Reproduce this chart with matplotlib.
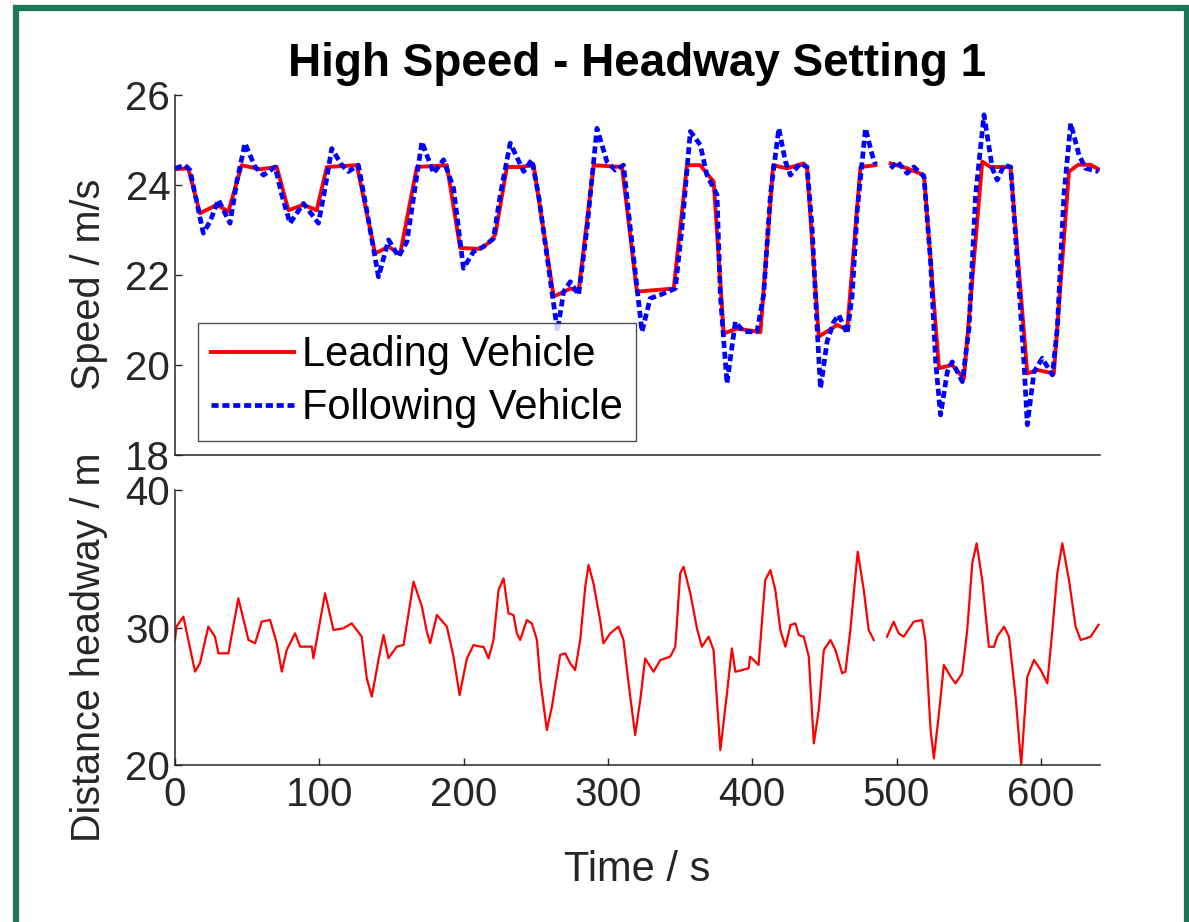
import numpy as np
import matplotlib
matplotlib.use("Agg")
import matplotlib.pyplot as plt
from matplotlib.patches import Rectangle

plt.rcParams['font.family'] = ['Liberation Sans', 'DejaVu Sans']

title = "High Speed - Headway Setting 1"
xlabel = "Time / s"
ylabel_top = "Speed / m/s"
ylabel_bot = "Distance headway / m"
legend_labels = ["Leading Vehicle", "Following Vehicle"]

nan = np.nan
# Leading vehicle speed (time s, speed m/s)
lead_t = [0, 9.2, 17.3, 28.9, 37, 46.2, 59, 70.5, 78.6, 89, 98.2, 105.2, 126, 138.7, 148, 156,
          167.6, 188.4, 197.6, 211.5, 218.4, 222, 230, 239, 248.5, 262.4, 274, 279.7, 290.1,
          309.8, 320.1, 345.6, 354.8, 364, 373.3, 380.2, 389.4, 405.7, 414.5, 424, 435.7, 438,
          446.1, 458.9, 465.8, 475, 485.4, nan, 495.9, 507.4, 519, 529.4, 538.6, 546.7, 559.4,
          565.1, 579, 590.6, 597.5, 609, 619.5, 626, 634.4, 640]
lead_v = [24.35, 24.37, 23.37, 23.56, 23.41, 24.44, 24.35, 24.4, 23.44, 23.56, 23.44, 24.4, 24.44,
          22.48, 22.63, 22.46, 24.4, 24.44, 22.6, 22.58, 22.74, 22.9, 24.4, 24.4, 24.44, 21.52,
          21.7, 21.63, 24.44, 24.4, 21.63, 21.7, 24.44, 24.44, 24.07, 20.7, 20.81, 20.73, 24.44,
          24.37, 24.48, 24.37, 20.63, 20.89, 20.78, 24.4, 24.44, nan, 24.48, 24.37, 24.22, 19.93,
          20.0, 19.7, 24.52, 24.4, 24.4, 19.81, 19.89, 19.81, 24.3, 24.45, 24.45, 24.35]

# Following vehicle speed
fol_t = [0, 6.9, 10.4, 19.6, 24.3, 30.1, 38.1, 42.8, 48.5, 55.5, 61.3, 69.4, 74, 79.7, 89, 99.4,
         104, 108.6, 115.6, 120.2, 127.1, 133, 141, 148, 154.9, 160.7, 171.1, 179.2, 186.1, 193,
         199.9, 206.9, 213.8, 220.7, 225.4, 232.3, 241.6, 247.3, 251.9, 265, 269.3, 273.9, 279.7,
         285.5, 292.4, 299.3, 305.1, 310.8, 315.5, 323.6, 329.3, 336.3, 346.7, 351.3, 357.1, 364,
         368.6, 375.6, 377.9, 382.5, 388.3, 394.1, 403.3, 407.9, 412.6, 418.4, 423, 426.5, 433.4,
         438, 441.5, 445, 447.3, 451.9, 456.5, 460, 465.8, 469.3, 472.7, 478.5, 483.1, 485.4, nan,
         495.9, 500.5, 507.4, 512, 519, 523.6, 527.1, 530.5, 535.2, 538.6, 545.6, 550.2, 554.8,
         560.6, 566.4, 569.8, 574.5, 579.1, 583.7, 588.3, 590.6, 595.3, 601, 608, 611.4, 616,
         620.7, 626.4, 631, 640]
fol_v = [24.37, 24.44, 24.33, 22.93, 23.19, 23.67, 23.15, 24.07, 24.93, 24.4, 24.22, 24.4, 23.78,
         23.15, 23.59, 23.15, 23.93, 24.81, 24.44, 24.3, 24.44, 23.41, 21.96, 22.78, 22.41, 22.74,
         24.96, 24.26, 24.56, 23.93, 22.15, 22.52, 22.63, 22.81, 23.78, 24.93, 24.3, 24.56, 23.78,
         20.75, 21.63, 21.85, 21.56, 23.04, 25.26, 24.52, 24.33, 24.44, 23.04, 20.74, 21.48,
         21.56, 21.7, 23.04, 25.19, 24.89, 24.22, 23.78, 21.56, 19.59, 20.96, 20.74, 20.74, 21.56,
         23.78, 25.26, 24.52, 24.22, 24.48, 24.4, 23.04, 20.81, 19.48, 20.52, 20.96, 21.11, 20.7,
         21.56, 23.41, 25.26, 24.67, 24.45, nan, 24.37, 24.52, 24.26, 24.4, 24.19, 22.3, 20.07,
         18.89, 19.85, 20.07, 19.63, 20.81, 23.78, 25.56, 24.37, 24.11, 24.44, 24.4, 22.3, 20.07,
         18.67, 19.85, 20.15, 19.78, 20.81, 23.78, 25.37, 24.67, 24.37, 24.3]

# Distance headway (time s, headway m)
hw_t = [0, 1, 5.8, 13.9, 17.3, 23.1, 27.7, 30.1, 37, 43.9, 50.9, 55.5, 60.1, 65.9, 70.5, 74, 77.4,
        83.2, 86.7, 94.8, 95.9, 99.4, 104, 109.8, 116.7, 122.5, 129.4, 132.9, 136.4, 141, 144.5,
        147.9, 153.7, 158.4, 165.3, 171.1, 174.5, 176.8, 181.5, 188.4, 193, 197.2, 202.3, 206.9,
        211.5, 213.8, 217.3, 220.7, 224.2, 227.7, 231.1, 234.6, 236.9, 239.2, 243.8, 247.3, 250.8,
        253.1, 257.7, 261.2, 266.9, 270.4, 273.9, 277.3, 280.8, 284.3, 286.6, 290, 294.6, 296.9,
        301.6, 307.3, 310.8, 314.3, 318.9, 322.4, 325.8, 331.6, 336.3, 343.2, 346.7, 350.1, 352.4,
        357.1, 361.7, 365.1, 369.8, 373.2, 377.9, 382.5, 385.9, 388.3, 397.5, 398.6, 404.4, 409,
        412.6, 416, 419.5, 423, 426.5, 429.9, 432.3, 435.7, 439.2, 442.7, 446.1, 449.6, 454.2,
        457.7, 462.3, 464.6, 468, 473.1, 477.3, 480.7, 484.2, nan, 493.4, 498, 501.5, 505, 511.9,
        517.7, 520, 523.6, 525.9, 529.4, 532.8, 537.5, 540.9, 545.5, 549, 552.5, 555.5, 559.4,
        564, 567.5, 569.8, 574.5, 577.9, 582.5, 586.4, 590.6, 595.3, 599.9, 604.5, 608, 611.4,
        614.9, 619.5, 624.1, 627.6, 634.5, 640]
hw_h = [29.1, 30.06, 30.79, 26.79, 27.4, 30.06, 29.33, 28.12, 28.12, 32.12, 29.09, 28.85, 30.43,
        30.55, 28.85, 26.79, 28.36, 29.58, 28.61, 28.61, 27.76, 29.82, 32.49, 29.82, 29.94, 30.3,
        29.33, 26.3, 24.97, 27.64, 29.46, 27.76, 28.61, 28.73, 33.33, 31.52, 29.7, 28.85, 30.91,
        30.06, 27.88, 25.09, 27.76, 28.73, 28.61, 28.6, 27.75, 29.09, 32.72, 33.57, 31.03, 30.9,
        29.57, 29.09, 30.54, 30.3, 29.09, 26.18, 22.54, 24.24, 28.0, 28.12, 27.39, 26.9, 29.09,
        32.97, 34.54, 33.21, 30.54, 28.85, 29.57, 30.06, 29.09, 25.94, 22.18, 24.72, 27.75, 26.78,
        27.63, 27.88, 28.6, 33.94, 34.42, 32.48, 29.94, 28.6, 29.33, 28.36, 21.09, 25.21, 28.48,
        26.78, 27.03, 27.88, 27.27, 33.45, 34.18, 32.73, 29.82, 28.6, 30.18, 30.3, 29.45, 29.33,
        27.88, 21.57, 24.0, 28.36, 29.09, 28.36, 26.67, 26.79, 29.82, 35.51, 32.73, 29.82, 29.09,
        nan, 29.33, 30.42, 29.57, 29.33, 30.42, 30.54, 29.09, 22.54, 20.48, 23.76, 27.27, 26.42,
        25.94, 26.67, 29.82, 34.67, 36.12, 33.45, 28.6, 28.6, 29.33, 30.06, 29.33, 24.97, 20.0,
        26.42, 27.64, 26.91, 25.94, 29.82, 33.94, 36.12, 33.45, 30.06, 29.09, 29.33, 30.2]

speed_ticks = [18, 20, 22, 24, 26]
hw_ticks = [20, 30, 40]
time_ticks = [0, 100, 200, 300, 400, 500, 600]

W, H = 1189, 922
fig = plt.figure(figsize=(W / 100, H / 100), dpi=100)
fig.patch.set_facecolor('white')

axc = '#262626'
L, R = 175, 1100
ax1 = fig.add_axes([L / W, 1 - 455 / H, (R - L) / W, (455 - 95) / H])
ax2 = fig.add_axes([L / W, 1 - 765 / H, (R - L) / W, (765 - 490) / H])

ax1.plot(lead_t, lead_v, color='#ff0000', lw=2.8, label=legend_labels[0], zorder=2)
ax1.plot(fol_t, fol_v, color='#0000ff', lw=3.4, linestyle=(0, (1.5, 0.8)),
         label=legend_labels[1], zorder=3)
ax2.plot(hw_t, hw_h, color='#ff0000', lw=1.6)

for ax in (ax1, ax2):
    ax.set_xlim(0, 641)
    for s in ('top', 'right'):
        ax.spines[s].set_visible(False)
    for s in ('left', 'bottom'):
        ax.spines[s].set_color(axc)
        ax.spines[s].set_linewidth(1.1)
    ax.tick_params(direction='in', length=5, width=1.0, colors=axc, labelsize=29,
                   labelcolor=axc)

ax1.set_ylim(18, 26)
ax1.set_yticks(speed_ticks)
ax1.set_xticks([])
ax2.set_ylim(20, 40)
ax2.set_yticks(hw_ticks)
ax2.set_xticks(time_ticks)
ax2.tick_params(axis='x', pad=8)

ax1.set_title(title, fontsize=33, fontweight='bold', pad=14, color='black')
ax1.set_ylabel(ylabel_top, fontsize=28.5, color=axc)
ax1.yaxis.set_label_coords(-0.072, 0.475)
ax2.set_ylabel(ylabel_bot, fontsize=28.5, color=axc)
ax2.yaxis.set_label_coords(-0.072, 0.43)
ax2.set_xlabel(xlabel, fontsize=30, color=axc, labelpad=26)

leg = ax1.legend(loc='lower left', bbox_to_anchor=(0.025, 0.039), borderaxespad=0,
                 fontsize=30, frameon=True, fancybox=False, handlelength=2.0,
                 handletextpad=0.2, labelspacing=0.32, borderpad=0.3)
leg.get_frame().set_edgecolor(axc)
leg.get_frame().set_linewidth(1.0)

fig.patches.append(Rectangle((15.5, -10), 1171, H - 7.5 + 10, transform=None,
                             fill=False, edgecolor='#1b765a', linewidth=4.5,
                             figure=fig))

fig.savefig('out.png', dpi=100, facecolor='white')
